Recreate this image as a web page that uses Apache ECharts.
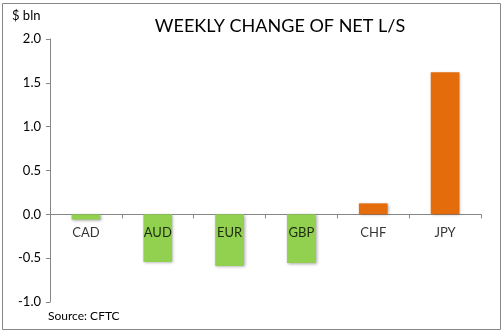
<!DOCTYPE html>
<html><head><meta charset="utf-8">
<script src="https://cdn.jsdelivr.net/npm/echarts@6/dist/echarts.min.js"></script>
<style>html,body{margin:0;padding:0;background:#fff}#c{width:504px;height:332px}</style>
</head><body><div id="c"></div>
<script>
const categories = ['CAD','AUD','EUR','GBP','CHF','JPY'];
const values = [-0.06, -0.545, -0.59, -0.555, 0.125, 1.62];
const yTicks = {min: -1.0, max: 2.0, interval: 0.5};

const chart = echarts.init(document.getElementById('c'), null, {renderer:'canvas'});
const font = 'Lato, "Open Sans", sans-serif';
chart.setOption({
  animation:false,
  backgroundColor:'#fff',
  title:{text:'WEEKLY CHANGE OF NET L/S', left:275, top:12, textAlign:'center',
    textStyle:{fontFamily:font, fontSize:18, fontWeight:'normal', color:'#000'}},
  graphic:[
    {type:'rect', shape:{x:2.5,y:3.5,width:498,height:326}, style:{fill:'none', stroke:'#888', lineWidth:1}, silent:true},
    {type:'text', left:12, top:9, style:{text:'$ bln', font:'13px '+font, fill:'#000'}},
    {type:'text', left:48, top:310, style:{text:'Source: CFTC', font:'12px '+font, fill:'#000'}}
  ],
  grid:{left:50, right:23, top:39, bottom:30, containLabel:false},
  xAxis:{type:'category', data:categories,
    axisLine:{onZero:true, lineStyle:{color:'#868686', width:1}},
    axisTick:{show:true, inside:false, length:4, lineStyle:{color:'#868686'}, alignWithLabel:false},
    axisLabel:{show:false},
    splitLine:{show:false}},
  yAxis:{type:'value', min:yTicks.min, max:yTicks.max, interval:yTicks.interval,
    axisLine:{show:true, lineStyle:{color:'#868686'}},
    axisTick:{show:true, length:4, lineStyle:{color:'#868686'}},
    axisLabel:{color:'#000', fontFamily:font, fontSize:13, margin:9, formatter:v=>v.toFixed(1)},
    splitLine:{show:false}},
  series:[
    {type:'bar', data:values, barWidth:'40%', z:2,
      itemStyle:{color:p=>p.value<0?'#92D050':'#E46C0A',
        shadowBlur:3, shadowOffsetX:1, shadowOffsetY:1, shadowColor:'rgba(0,0,0,0.35)'}},
    {type:'scatter', data:categories.map(c=>[c,0]), symbolSize:0, z:5, silent:true,
      label:{show:true, position:'bottom', distance:12, formatter:p=>p.value[0],
        color:'#000', fontFamily:font, fontSize:13}}
  ]
});
</script></body></html>
